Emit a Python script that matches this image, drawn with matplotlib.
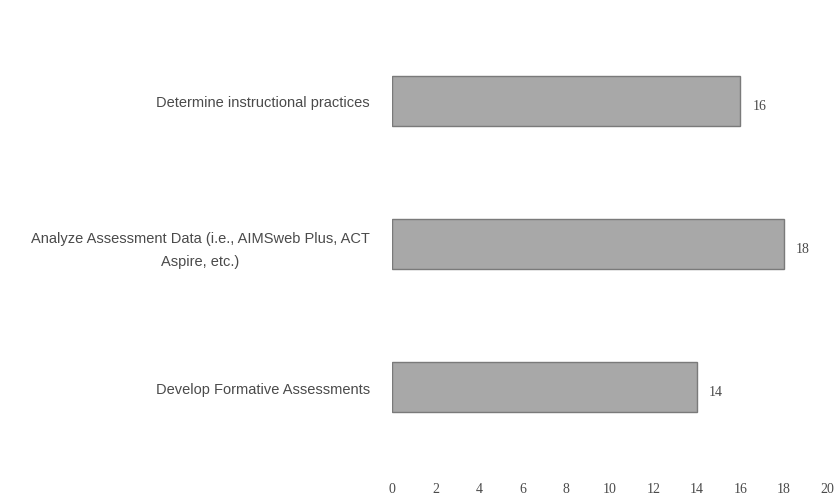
import matplotlib.pyplot as plt

# categories listed top to bottom
categories = [
    "Determine instructional practices",
    "Analyze Assessment Data (i.e., AIMSweb Plus, ACT\nAspire, etc.)",
    "Develop Formative Assessments",
]
counts = [16, 18, 14]
x_ticks = [0, 2, 4, 6, 8, 10, 12, 14, 16, 18, 20]

text_color = "#4a4a4a"

fig = plt.figure(figsize=(8.4, 5.02), dpi=100)
ax = fig.add_axes([0.467, 0.084, 0.518, 0.856])

pos = list(range(len(categories)))
bars = ax.barh(pos, counts, height=0.35, color="#a8a8a8",
               edgecolor="#7a7a7a", linewidth=1.0)

for y, v in zip(pos, counts):
    ax.text(v + 0.55, y + 0.03, f"{v}", va="center", ha="left",
            fontsize=10, color=text_color, family="Liberation Serif")

ax.set_xlim(0, 20)
ax.set_ylim(len(categories) - 0.5, -0.5)
ax.set_xticks(x_ticks)
ax.set_yticks(pos)
ax.set_yticklabels(categories)
for lbl in ax.get_yticklabels():
    lbl.set_multialignment("center")
    lbl.set_linespacing(1.75)
    lbl.set_family("Liberation Sans")
    lbl.set_fontsize(10.5)
    lbl.set_color(text_color)
for lbl in ax.get_xticklabels():
    lbl.set_family("Liberation Serif")
    lbl.set_fontsize(10)
    lbl.set_color(text_color)

ax.tick_params(axis="both", length=0)
ax.tick_params(axis="x", pad=17)
ax.tick_params(axis="y", pad=16)
for s in ax.spines.values():
    s.set_visible(False)

plt.savefig("out.png", dpi=100)
